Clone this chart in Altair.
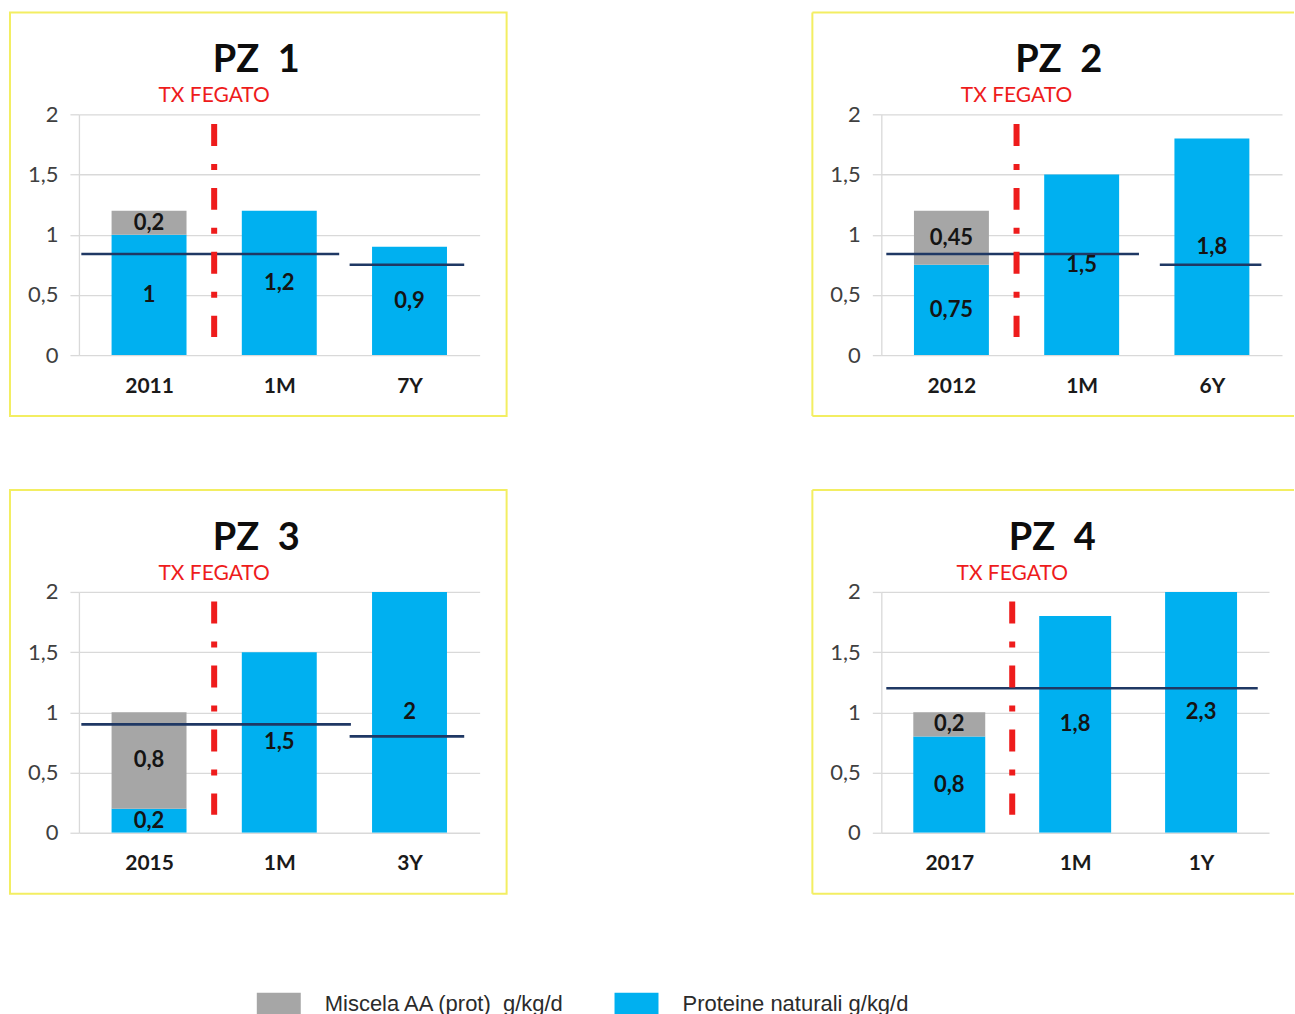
import altair as alt
import pandas as pd

# Patients and time points
panels = ["PZ\u00a0 1", "PZ\u00a0 2", "PZ\u00a0 3", "PZ\u00a0 4"]
categories = [
    ["2011", "1M", "7Y"],
    ["2012", "1M", "6Y"],
    ["2015", "1M", "3Y"],
    ["2017", "1M", "1Y"],
]
# Natural protein intake (g/kg/d) per time point
proteine = [
    [1.0, 1.2, 0.9],
    [0.75, 1.5, 1.8],
    [0.2, 1.5, 2.0],
    [0.8, 1.8, 2.3],
]
# Amino-acid mixture intake (g/kg/d) per time point
miscela = [
    [0.2, 0.0, 0.0],
    [0.45, 0.0, 0.0],
    [0.8, 0.0, 0.0],
    [0.2, 0.0, 0.0],
]
# Reference intake levels: value and span (in time-point units)
level_value = [[0.84, 0.75], [0.84, 0.75], [0.9, 0.8], [1.2]]
level_start = [[-0.02, 2.04], [0.0, 2.1], [-0.02, 2.04], [0.0]]
level_end = [[1.96, 2.92], [1.94, 2.88], [2.05, 2.92], [2.95]]

# Liver transplant marker
tx_label = "TX FEGATO"
tx_position = 1.0
tx_span = [0.15, 1.92]
tx_label_y = 2.1

series = ["Miscela AA (prot)\u00a0 g/kg/d", "Proteine naturali g/kg/d"]
series_colors = ["#A6A6A6", "#00B0F0"]
y_ticks = [0, 0.5, 1, 1.5, 2]
y_max = 2

panel_widths = [401, 401, 401, 388]
panel_height = 241

FONT = "Lato"
FRAME = "#F3EE62"
NAVY = "#1F3864"
RED = "#EE1C1C"


def fmt(v):
    return f"{v:g}".replace(".", ",")


def build_panel(i):
    width = panel_widths[i]
    cats = categories[i]
    step = width / len(cats)
    bar_size = round(step * 0.56)

    rows = []
    for j, c in enumerate(cats):
        lo = 0.0
        for name, v in ((series[1], proteine[i][j]), (series[0], miscela[i][j])):
            if v > 0:
                hi = lo + v
                rows.append(dict(cat=c, pos=j + 0.5, series=name, lo=lo, hi=hi,
                                 mid=(lo + min(hi, y_max)) / 2, label=fmt(v)))
                lo = hi
    bars_df = pd.DataFrame(rows)

    levels_df = pd.DataFrame({"value": level_value[i], "start": level_start[i], "end": level_end[i]})
    tx_df = pd.DataFrame({"pos": [tx_position], "lo": [tx_span[0]], "hi": [tx_span[1]],
                          "label": [tx_label], "ly": [tx_label_y]})

    label_expr = "[" + ",".join(f"'{c}'" for c in cats) + "][floor(datum.value)]"
    x_scale = alt.Scale(domain=[0, len(cats)], nice=False, zero=False)
    y_scale = alt.Scale(domain=[0, y_max], nice=False)

    x = alt.X("pos:Q", scale=x_scale, title=None,
              axis=alt.Axis(values=[k + 0.5 for k in range(len(cats))], labelExpr=label_expr,
                            grid=False, ticks=False, domain=False, labelFont=FONT,
                            labelFontSize=21, labelFontWeight="bold", labelColor="#1A1A1A",
                            labelPadding=20))
    y = alt.Y("lo:Q", scale=y_scale, title=None,
              axis=alt.Axis(values=y_ticks, labelExpr="replace(toString(datum.value), '.', ',')",
                            grid=True, gridColor="#D9D9D9", gridWidth=1.3,
                            domain=True, domainColor="#D9D9D9", domainWidth=1.3,
                            ticks=True, tickColor="#D9D9D9", tickSize=9, tickWidth=1.3,
                            labelFont=FONT, labelFontSize=22, labelColor="#404040",
                            labelPadding=12))

    # Shared legend, positioned from the first panel's plot origin
    color = alt.Color("series:N",
                      scale=alt.Scale(domain=series, range=series_colors),
                      legend=alt.Legend(orient="none", legendX=178, legendY=868,
                                        direction="horizontal", title=None,
                                        symbolType="M-1,-0.5L1,-0.5L1,0.5L-1,0.5Z",
                                        symbolSize=1936, symbolStrokeWidth=0,
                                        symbolOpacity=1, labelFont="Liberation Sans",
                                        labelFontSize=22, labelColor="#2B2B2B",
                                        labelLimit=400, labelOffset=24,
                                        columnPadding=49, padding=0))

    bars = alt.Chart(bars_df).mark_bar(size=bar_size, clip=True).encode(
        x=x, y=y, y2="hi:Q", color=color)

    values = alt.Chart(bars_df).mark_text(font=FONT, fontSize=22, fontWeight="bold",
                                          color="#141414").encode(
        x="pos:Q", y="mid:Q", text="label:N")

    levels = alt.Chart(levels_df).mark_rule(color=NAVY, strokeWidth=2.6).encode(
        x="start:Q", x2="end:Q", y="value:Q")

    tx_rule = alt.Chart(tx_df).mark_rule(color=RED, strokeWidth=6,
                                         strokeDash=[22, 18, 6, 18]).encode(
        x="pos:Q", y="hi:Q", y2="lo:Q")

    tx_text = alt.Chart(tx_df).mark_text(font=FONT, fontSize=21, color=RED,
                                         baseline="alphabetic").encode(
        x="pos:Q", y="ly:Q", text="label:N")

    title = alt.Chart(pd.DataFrame({"t": [panels[i]]})).mark_text(
        font=FONT, fontSize=38, fontWeight="bold", color="#0D0D0D",
        baseline="alphabetic", dx=-23).encode(
        x=alt.value(width / 2), y=alt.value(-42), text="t:N")

    # Panel frame (the right-hand column runs off the page edge, so no right side there)
    if i % 2 == 0:
        frame = alt.Chart(pd.DataFrame({"k": [0]})).mark_rect(
            fill=None, stroke=FRAME, strokeWidth=2).encode(
            x=alt.value(-69), x2=alt.value(width + 27),
            y=alt.value(-102), y2=alt.value(panel_height + 61))
        layers = [frame]
    else:
        edge = pd.DataFrame({"k": [0]})
        top = alt.Chart(edge).mark_rule(color=FRAME, strokeWidth=2).encode(
            x=alt.value(-69), x2=alt.value(413), y=alt.value(-102))
        bottom = alt.Chart(edge).mark_rule(color=FRAME, strokeWidth=2).encode(
            x=alt.value(-69), x2=alt.value(413), y=alt.value(panel_height + 61))
        left = alt.Chart(edge).mark_rule(color=FRAME, strokeWidth=2).encode(
            x=alt.value(-69), y=alt.value(-102), y2=alt.value(panel_height + 61))
        layers = [top, bottom, left]

    return alt.layer(*layers, bars, levels, values, tx_rule, tx_text, title).properties(
        width=width, height=panel_height)


row1 = alt.hconcat(build_panel(0), build_panel(1), spacing=304)
row2 = alt.hconcat(build_panel(2), build_panel(3), spacing=304)

chart = alt.vconcat(row1, row2, spacing=72).properties(
    padding={"left": 9, "top": 11, "right": 0, "bottom": 0},
    background="white",
).configure_view(stroke=None)

chart.save("out.html", embed_options={"renderer": "svg", "actions": False})
